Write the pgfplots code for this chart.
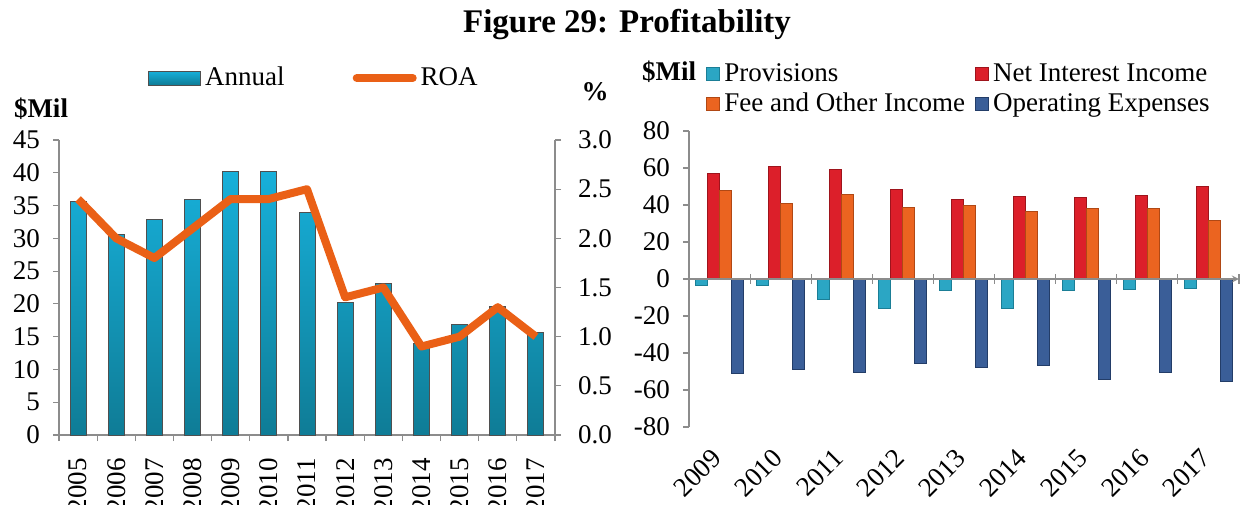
\documentclass[border=0pt]{standalone}
\usepackage{pgfplots}
\pgfplotsset{compat=1.18}
\usepackage{pgfplotstable}
\usepackage{fontspec}
\setmainfont{Liberation Serif}

\definecolor{annualtop}{HTML}{17B0DA}
\definecolor{annualbot}{HTML}{0F7C96}
\definecolor{baredge}{HTML}{4F4F4F}
\definecolor{roa}{HTML}{EA6016}
\definecolor{axisgrey}{HTML}{8C8C8C}
\definecolor{prov}{HTML}{2BA6C4}
\definecolor{provedge}{HTML}{1B7E96}
\definecolor{nii}{HTML}{DC1F2A}
\definecolor{niiedge}{HTML}{9E141C}
\definecolor{fee}{HTML}{EB6420}
\definecolor{feeedge}{HTML}{B04814}
\definecolor{opex}{HTML}{3A5E98}
\definecolor{opexedge}{HTML}{233D68}

\newcommand\lbl{\fontsize{13.5}{16}\selectfont}

% annual profit ($Mil) and ROA (%)
\pgfplotstableread{
idx year annual roa
0  2005 35.6 2.4
1  2006 30.6 2.0
2  2007 32.8 1.8
3  2008 36.0 2.1
4  2009 40.2 2.4
5  2010 40.2 2.4
6  2011 33.9 2.5
7  2012 20.2 1.4
8  2013 23.1 1.5
9  2014 14.0 0.9
10 2015 16.8 1.0
11 2016 19.6 1.3
12 2017 15.6 1.0
}\profit

% income components ($Mil)
\pgfplotstableread{
idx year prov nii fee opex
0 2009  -3.6 57.1 47.7 -51.2
1 2010  -3.3 60.8 41.0 -49.0
2 2011 -11.2 59.0 45.6 -50.6
3 2012 -15.9 48.3 38.9 -45.9
4 2013  -6.1 43.0 39.8 -47.9
5 2014 -15.7 44.5 36.3 -46.7
6 2015  -6.3 44.3 38.0 -54.1
7 2016  -5.8 45.0 38.2 -50.8
8 2017  -4.9 49.9 31.5 -55.2
}\components

\pgfplotsset{
  common/.style={
    scale only axis,
    /pgf/number format/assume math mode=true,
    tick label style={font=\lbl, text=black},
    axis line style={axisgrey, line width=0.6pt, -},
    tick style={axisgrey, line width=0.6pt},
    tick align=outside,
    major tick length=3pt, minor tick length=3pt,
  },
  wideleg/.style={legend image code/.code={\draw[##1] (0pt,-3.5pt) rectangle (26pt,3.5pt);}},
  lineleg/.style={legend image code/.code={\draw[##1, line cap=round] (0pt,0pt) -- (28pt,0pt);}},
  sqleg/.style={legend image code/.code={\draw[##1] (0pt,-3.25pt) rectangle (6.5pt,3.25pt);}},
}

\begin{document}
\begin{tikzpicture}
\useasboundingbox (0,0) rectangle (621.5pt,252pt);

\node[font=\fontsize{16.5}{19}\selectfont\bfseries] at (313.5pt,239.5pt) {Figure 29: Profitability};

% ---------- left chart ----------
\begin{axis}[common,
  at={(29.5pt,34.5pt)}, anchor=south west,
  width=248pt, height=147.5pt,
  xmin=-0.5, xmax=12.5, ymin=0, ymax=45,
  axis y line*=left, axis x line*=bottom,
  ytick={0,5,...,45},
  yticklabel style={xshift=-3pt},
  xtick={0,...,12},
  xticklabels={2005,2006,2007,2008,2009,2010,2011,2012,2013,2014,2015,2016,2017},
  x tick label style={yshift=-5pt, rotate=90, anchor=east},
  major x tick style={draw=none},
  minor xtick={-0.5,0.5,...,12.5},
]
\addplot[ybar, bar width=8pt, draw=baredge, line width=0.5pt,
  top color=annualtop, bottom color=annualbot]
  table[x=idx, y=annual] {\profit};
\end{axis}

\begin{axis}[common,
  at={(29.5pt,34.5pt)}, anchor=south west,
  width=248pt, height=147.5pt,
  xmin=-0.5, xmax=12.5, ymin=0, ymax=3,
  axis y line*=right, axis x line=none,
  ytick={0,0.5,...,3},
  yticklabel style={xshift=5pt, /pgf/number format/.cd, fixed, fixed zerofill, precision=1},
  legend columns=2,
  legend cell align=left,
  legend style={draw=none, fill=none, font=\lbl,
    at={(0.167,1.21)}, anchor=west,
    /tikz/every even column/.append style={column sep=32pt}},
]
\addlegendimage{wideleg, draw=baredge, line width=0.5pt, top color=annualtop, bottom color=annualbot}
\addlegendentry{Annual}
\addplot[lineleg, roa, line width=4pt, line join=round]
  table[x=idx, y=roa] {\profit};
\addlegendentry{ROA}
\end{axis}

\node[font=\lbl\bfseries] at (20.5pt,197.5pt) {\$Mil};
\node[font=\lbl\bfseries] at (297.5pt,206pt) {\%};

% ---------- right chart ----------
\begin{axis}[common,
  at={(344.5pt,38.5pt)}, anchor=south west,
  width=275pt, height=148pt,
  xmin=-0.5, xmax=8.5, ymin=-80, ymax=80,
  axis y line*=left, axis x line*=bottom,
  x axis line style={draw=none},
  ytick={-80,-60,...,80},
  yticklabel style={xshift=-3pt},
  xtick={0,...,8},
  xticklabels={2009,2010,2011,2012,2013,2014,2015,2016,2017},
  x tick label style={xshift=1pt, yshift=-8pt, anchor=east, rotate=45},
  major x tick style={draw=none},
  ybar=0pt, bar width=6pt,
  legend columns=2,
  legend cell align=left,
  legend style={draw=none, fill=none, font=\lbl,
    at={(0.02,1.255)}, anchor=north west,
    /tikz/every even column/.append style={column sep=3pt},
    /tikz/every row/.append style={row sep=1.5pt}},
  sqleg,
]
\addplot[fill=prov, draw=provedge, line width=0.5pt] table[x=idx, y=prov] {\components};
\addlegendentry{Provisions}
\addplot[fill=nii, draw=niiedge, line width=0.5pt] table[x=idx, y=nii] {\components};
\addlegendentry{Net Interest Income}
\addplot[fill=fee, draw=feeedge, line width=0.5pt] table[x=idx, y=fee] {\components};
\addlegendentry{Fee and Other Income}
\addplot[fill=opex, draw=opexedge, line width=0.5pt] table[x=idx, y=opex] {\components};
\addlegendentry{Operating Expenses}
\end{axis}

% zero line with group separators
\begin{axis}[common,
  at={(344.5pt,38.5pt)}, anchor=south west,
  width=275pt, height=148pt,
  xmin=-0.5, xmax=8.5, ymin=-80, ymax=80,
  axis x line=middle, axis y line=none,
  xtick={-0.5,0.5,...,8.5}, xticklabels={},
  major tick length=5pt,
]
\end{axis}

\node[font=\lbl\bfseries] at (334.5pt,216pt) {\$Mil};
\end{tikzpicture}
\end{document}
